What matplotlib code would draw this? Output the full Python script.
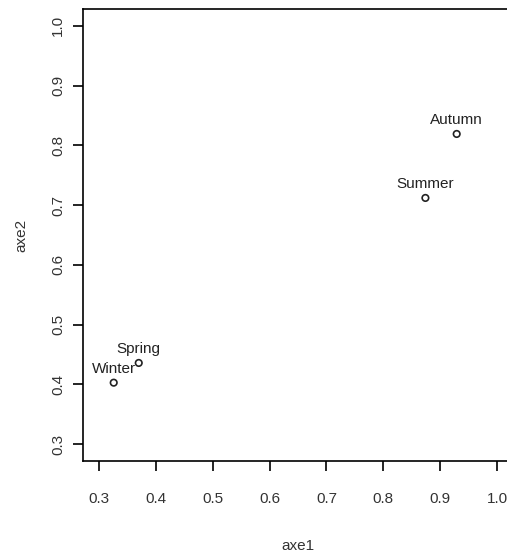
import matplotlib
matplotlib.use("Agg")
import matplotlib.pyplot as plt

plt.rcParams['font.family'] = ['Liberation Sans', 'DejaVu Sans']

seasons = ["Winter", "Spring", "Summer", "Autumn"]
axe1 = [0.326, 0.370, 0.874, 0.929]
axe2 = [0.403, 0.436, 0.712, 0.819]
ticks = [0.3, 0.4, 0.5, 0.6, 0.7, 0.8, 0.9, 1.0]

fig = plt.figure(figsize=(5.07, 5.54), dpi=100)
# plot region runs past the right edge, like the cropped original
ax = fig.add_axes([83 / 507, 93 / 554, 430 / 507, 452 / 554])

ax.scatter(axe1, axe2, s=22, facecolors="none", edgecolors="#222222", linewidths=1.2, zorder=3)
for name, x, y in zip(seasons, axe1, axe2):
    ax.annotate(name, (x, y), xytext=(0, 5), textcoords="offset points",
                ha="center", va="bottom", fontsize=11, color="#222222")

ax.set_xlim(0.272, 1.028)
ax.set_ylim(0.272, 1.028)
ax.set_xticks(ticks)
ax.set_yticks(ticks)
ax.set_xticklabels(["%.1f" % t for t in ticks])
ax.set_yticklabels(["%.1f" % t for t in ticks], rotation=90, va="center")
ax.tick_params(length=7, width=1.2, labelsize=11, labelcolor="#333333", pad=15)
ax.tick_params(axis="y", pad=6)
for s in ax.spines.values():
    s.set_linewidth(1.2)

ax.set_xlabel("axe1", fontsize=11, color="#333333", labelpad=24)
ax.set_ylabel("axe2", fontsize=11, color="#333333", labelpad=16)

fig.savefig("out.png", dpi=100)
